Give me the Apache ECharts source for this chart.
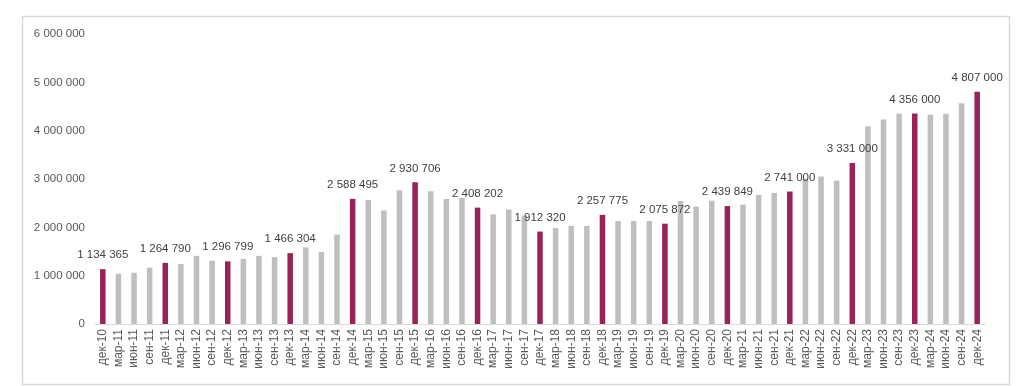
<!DOCTYPE html>
<html>
<head>
<meta charset="utf-8">
<script src="https://cdn.jsdelivr.net/npm/echarts@6/dist/echarts.min.js"></script>
<style>html,body{margin:0;padding:0;background:#fff}#c{width:1024px;height:386px}</style>
</head>
<body>
<div id="c"></div>
<script>
const categories = [
 "дек-10","мар-11","июн-11","сен-11","дек-11","мар-12","июн-12","сен-12","дек-12",
 "мар-13","июн-13","сен-13","дек-13","мар-14","июн-14","сен-14","дек-14",
 "мар-15","июн-15","сен-15","дек-15","мар-16","июн-16","сен-16","дек-16",
 "мар-17","июн-17","сен-17","дек-17","мар-18","июн-18","сен-18","дек-18",
 "мар-19","июн-19","сен-19","дек-19","мар-20","июн-20","сен-20","дек-20",
 "мар-21","июн-21","сен-21","дек-21","мар-22","июн-22","сен-22","дек-22",
 "мар-23","июн-23","сен-23","дек-23","мар-24","июн-24","сен-24","дек-24"
];
const values = [
 1134365,1040000,1060000,1165000,1264790,1240000,1410000,1310000,1296799,
 1345000,1410000,1385000,1466304,1585000,1490000,1850000,2588495,
 2566000,2350000,2765000,2930706,2745000,2587000,2607000,2408202,
 2270000,2370000,2240000,1912320,1985000,2030000,2030000,2257775,
 2130000,2130000,2130000,2075872,2545000,2430000,2550000,2439849,
 2470000,2670000,2710000,2741000,3005000,3050000,2965000,3331000,
 4090000,4230000,4350000,4356000,4330000,4350000,4565000,4807000
];
const yTicks = [0,1000000,2000000,3000000,4000000,5000000,6000000];

function fmt(v){ return String(v).replace(/\B(?=(\d{3})+(?!\d))/g, ' '); }

const FONT = '"Liberation Sans", Arial, sans-serif';
const PURPLE = '#982259';
const GRAY = '#bfbfbf';

const chart = echarts.init(document.getElementById('c'), null, {renderer:'canvas'});
chart.setOption({
  animation:false,
  backgroundColor:'#fff',
  graphic:[{
    type:'rect', left:20, top:14, shape:{width:987, height:368},
    style:{fill:'none', stroke:'#d9d9d9', lineWidth:1.5}, silent:true
  }],
  grid:{left:95, right:39, top:34, bottom:62, containLabel:false},
  xAxis:{
    type:'category', data:categories,
    axisLine:{lineStyle:{color:'#d9d9d9', width:1}},
    axisTick:{show:false},
    axisLabel:{rotate:90, interval:0, margin:5, color:'#595959', fontSize:12, fontFamily:FONT}
  },
  yAxis:{
    type:'value', min:yTicks[0], max:yTicks[yTicks.length-1], interval:yTicks[1]-yTicks[0],
    splitLine:{show:false}, axisLine:{show:false}, axisTick:{show:false},
    axisLabel:{margin:10, color:'#595959', fontSize:11.5, fontFamily:FONT, formatter:fmt}
  },
  series:[{
    type:'bar', barWidth:5.5,
    data: values.map((v,i)=>{
      const hl = categories[i].startsWith('дек');
      return {
        value:v,
        itemStyle:{color: hl ? PURPLE : GRAY},
        label:{show:hl, position:'top', distance:8, color:'#404040', fontSize:11.5, fontFamily:FONT, formatter:p=>fmt(p.value)}
      };
    })
  }]
});
</script>
</body>
</html>
